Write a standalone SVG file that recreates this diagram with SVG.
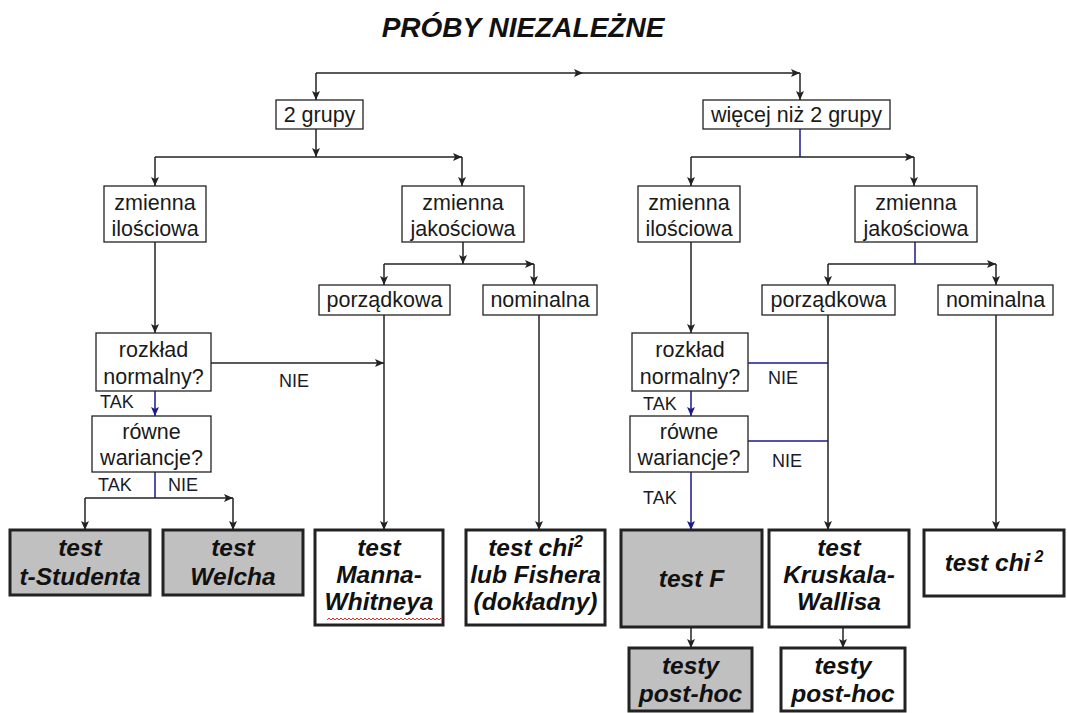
<svg xmlns="http://www.w3.org/2000/svg" width="1067" height="713" viewBox="0 0 1067 713">
<style>
.bx{fill:#fff;stroke:#222;stroke-width:1.3}
.res{fill:#fff;stroke:#222;stroke-width:3}
.gray{fill:#c0c0c0}
.t{font-family:"Liberation Sans",Arial,sans-serif;font-size:21.5px;fill:#1a1a1a;text-anchor:middle}
.r{font-family:"Liberation Sans",Arial,sans-serif;font-size:24.5px;font-weight:bold;font-style:italic;fill:#111;text-anchor:middle}
.lb{font-family:"Liberation Sans",Arial,sans-serif;font-size:18px;fill:#1a1a2a}
.k{stroke:#222;stroke-width:1.5;fill:none}
.n{stroke:#1a1a8c;stroke-width:1.5;fill:none}
.ak{marker-end:url(#ak)}
.an{marker-end:url(#an)}
</style>
<defs>
<marker id="ak" markerUnits="userSpaceOnUse" markerWidth="10" markerHeight="8" refX="9" refY="4" orient="auto"><path d="M0,0 L9,4 L0,8 L2,4 z" fill="#222"/></marker>
<marker id="an" markerUnits="userSpaceOnUse" markerWidth="10" markerHeight="8" refX="9" refY="4" orient="auto"><path d="M0,0 L9,4 L0,8 L2,4 z" fill="#1a1a8c"/></marker>
</defs>
<rect width="1067" height="713" fill="#fff"/>
<text x="523" y="37" font-family="Liberation Sans,Arial,sans-serif" font-size="28" font-weight="bold" font-style="italic" text-anchor="middle" fill="#111">PRÓBY NIEZALEŻNE</text>

<g id="connectors">
<line class="k ak" x1="316" y1="73" x2="583" y2="73"/>
<line class="k ak" x1="583" y1="73" x2="800" y2="73"/>
<line class="k ak" x1="316" y1="73" x2="316" y2="100"/>
<line class="k ak" x1="800" y1="73" x2="800" y2="100"/>
<line class="k ak" x1="316" y1="129" x2="316" y2="157"/>
<line class="k ak" x1="155" y1="157" x2="462" y2="157"/>
<line class="k ak" x1="155" y1="157" x2="155" y2="186"/>
<line class="k ak" x1="462" y1="157" x2="462" y2="186"/>
<line class="n" x1="800" y1="129" x2="800" y2="157"/>
<line class="k ak" x1="691" y1="157" x2="914" y2="157"/>
<line class="k ak" x1="691" y1="157" x2="691" y2="186"/>
<line class="k ak" x1="914" y1="157" x2="914" y2="186"/>
<line class="k ak" x1="463" y1="242" x2="463" y2="264"/>
<line class="k ak" x1="384" y1="264" x2="534" y2="264"/>
<line class="k ak" x1="384" y1="264" x2="384" y2="285"/>
<line class="k ak" x1="534" y1="264" x2="534" y2="285"/>
<line class="n" x1="915" y1="242" x2="915" y2="264"/>
<line class="k ak" x1="828" y1="264" x2="996" y2="264"/>
<line class="k ak" x1="828" y1="264" x2="828" y2="285"/>
<line class="k ak" x1="996" y1="264" x2="996" y2="285"/>
<line class="k ak" x1="155" y1="242" x2="155" y2="333"/>
<line class="k ak" x1="211" y1="363" x2="384" y2="363"/>
<line class="k ak" x1="384" y1="315" x2="384" y2="530"/>
<line class="k ak" x1="539" y1="315" x2="539" y2="530"/>
<line class="n an" x1="155" y1="391" x2="155" y2="416"/>
<line class="n" x1="155" y1="472" x2="155" y2="498"/>
<line class="k ak" x1="85" y1="498" x2="233" y2="498"/>
<line class="k ak" x1="85" y1="498" x2="85" y2="530"/>
<line class="k ak" x1="233" y1="498" x2="233" y2="530"/>
<line class="k ak" x1="691" y1="242" x2="691" y2="333"/>
<line class="n" x1="748" y1="363" x2="828" y2="363"/>
<line class="n" x1="748" y1="441" x2="828" y2="441"/>
<line class="k ak" x1="828" y1="315" x2="828" y2="530"/>
<line class="k ak" x1="996" y1="315" x2="996" y2="530"/>
<line class="n an" x1="691" y1="391" x2="691" y2="416"/>
<line class="n an" x1="691" y1="472" x2="691" y2="530"/>
<line class="k ak" x1="691" y1="627" x2="691" y2="648"/>
<line class="k ak" x1="843" y1="627" x2="843" y2="648"/>
<text class="lb" x="279" y="387">NIE</text>
<text class="lb" x="100" y="408">TAK</text>
<text class="lb" x="98" y="491">TAK</text>
<text class="lb" x="168" y="491">NIE</text>
<text class="lb" x="768" y="384">NIE</text>
<text class="lb" x="643" y="410">TAK</text>
<text class="lb" x="772" y="467">NIE</text>
<text class="lb" x="643" y="504">TAK</text>
</g>

<g id="n-2grupy"><rect class="bx" x="276" y="100" width="87" height="29"/><text class="t" x="319.5" y="122">2 grupy</text></g>
<g id="n-wiecej"><rect class="bx" x="703" y="100" width="187" height="29"/><text class="t" x="796.5" y="122">więcej niż 2 grupy</text></g>
<g id="n-ilosc-l"><rect class="bx" x="104" y="186" width="102" height="56"/><text class="t" x="155" y="210">zmienna</text><text class="t" x="155" y="236">ilościowa</text></g>
<g id="n-jakosc-l"><rect class="bx" x="402" y="186" width="122" height="56"/><text class="t" x="463" y="210">zmienna</text><text class="t" x="463" y="236">jakościowa</text></g>
<g id="n-ilosc-r"><rect class="bx" x="638" y="186" width="102" height="56"/><text class="t" x="689" y="210">zmienna</text><text class="t" x="689" y="236">ilościowa</text></g>
<g id="n-jakosc-r"><rect class="bx" x="855" y="186" width="122" height="56"/><text class="t" x="916" y="210">zmienna</text><text class="t" x="916" y="236">jakościowa</text></g>
<g id="n-porz-l"><rect class="bx" x="319" y="285" width="131" height="30"/><text class="t" x="384.5" y="307">porządkowa</text></g>
<g id="n-nom-l"><rect class="bx" x="483" y="285" width="114" height="30"/><text class="t" x="540" y="307">nominalna</text></g>
<g id="n-porz-r"><rect class="bx" x="762" y="285" width="133" height="30"/><text class="t" x="828.5" y="307">porządkowa</text></g>
<g id="n-nom-r"><rect class="bx" x="938" y="285" width="115" height="30"/><text class="t" x="995.5" y="307">nominalna</text></g>
<g id="n-rozklad-l"><rect class="bx" x="96" y="333" width="115" height="58"/><text class="t" x="153.5" y="357">rozkład</text><text class="t" x="153.5" y="384">normalny?</text></g>
<g id="n-rowne-l"><rect class="bx" x="92" y="416" width="119" height="56"/><text class="t" x="151.5" y="439">równe</text><text class="t" x="151.5" y="465">wariancje?</text></g>
<g id="n-rozklad-r"><rect class="bx" x="632" y="333" width="116" height="58"/><text class="t" x="690" y="357">rozkład</text><text class="t" x="690" y="384">normalny?</text></g>
<g id="n-rowne-r"><rect class="bx" x="630" y="416" width="118" height="56"/><text class="t" x="689" y="439">równe</text><text class="t" x="689" y="465">wariancje?</text></g>

<g id="n-tstudent"><rect class="res gray" x="10" y="530" width="140" height="65"/><text class="r" x="80" y="556">test</text><text class="r" x="80" y="585">t-Studenta</text></g>
<g id="n-welch"><rect class="res gray" x="163" y="530" width="140" height="65"/><text class="r" x="233" y="556">test</text><text class="r" x="233" y="585">Welcha</text></g>
<g id="n-mann"><rect class="res" x="315" y="530" width="128" height="95"/><text class="r" x="379" y="556">test</text><text class="r" x="379" y="583">Manna-</text><text class="r" x="379" y="610">Whitneya</text><path d="M327,620 l2,-2 l2,2 l2,-2 l2,2 l2,-2 l2,2 l2,-2 l2,2 l2,-2 l2,2 l2,-2 l2,2 l2,-2 l2,2 l2,-2 l2,2 l2,-2 l2,2 l2,-2 l2,2 l2,-2 l2,2 l2,-2 l2,2 l2,-2 l2,2 l2,-2 l2,2 l2,-2 l2,2 l2,-2 l2,2 l2,-2 l2,2 l2,-2 l2,2 l2,-2 l2,2 l2,-2 l2,2 l2,-2 l2,2 l2,-2 l2,2 l2,-2 l2,2 l2,-2 l2,2 l2,-2 l2,2 l2,-2 l2,2 l2,-2 l2,2 l2,-2 l2,2 l2,-2" fill="none" stroke="#e03030" stroke-width="1"/></g>
<g id="n-chi-l"><rect class="res" x="466" y="530" width="139" height="95"/><text class="r" x="535.5" y="556">test chi<tspan font-size="16" dy="-9">2</tspan></text><text class="r" x="535.5" y="583">lub Fishera</text><text class="r" x="535.5" y="610">(dokładny)</text></g>
<g id="n-testF"><rect class="res gray" x="621" y="530" width="141" height="97"/><text class="r" x="691.5" y="587">test F</text></g>
<g id="n-kruskal"><rect class="res" x="769" y="530" width="140" height="97"/><text class="r" x="839" y="556">test</text><text class="r" x="839" y="583">Kruskala-</text><text class="r" x="839" y="610">Wallisa</text></g>
<g id="n-chi-r"><rect class="res" x="924" y="530" width="140" height="66"/><text class="r" x="994" y="571">test chi<tspan font-size="16" dx="4" dy="-9">2</tspan></text></g>
<g id="n-posthoc-l"><rect class="res gray" x="629" y="648" width="123" height="63"/><text class="r" x="690.5" y="674">testy</text><text class="r" x="690.5" y="702">post-hoc</text></g>
<g id="n-posthoc-r"><rect class="res" x="781" y="648" width="124" height="63"/><text class="r" x="843" y="674">testy</text><text class="r" x="843" y="702">post-hoc</text></g>
</svg>
